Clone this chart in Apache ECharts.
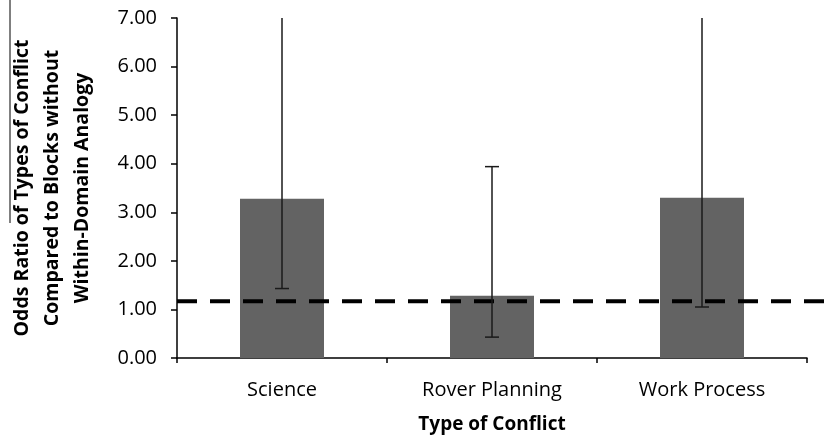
<!DOCTYPE html>
<html>
<head>
<meta charset="utf-8">
<script src="https://cdn.jsdelivr.net/npm/echarts@6/dist/echarts.min.js"></script>
<style>html,body{margin:0;padding:0;background:#fff}#c{width:830px;height:437px}</style>
</head>
<body>
<div id="c"></div>
<script>
const categories = ['Science', 'Rover Planning', 'Work Process'];
const oddsRatio = [3.28, 1.28, 3.30];
const ciLower = [1.43, 0.43, 1.05];
const ciUpper = [7.0, 3.94, 7.0];
const referenceValue = 1.17;
const yMin = 0, yMax = 7, yStep = 1;

const chart = echarts.init(document.getElementById('c'), null, {renderer: 'canvas'});
const font = '"Open Sans", "DejaVu Sans", sans-serif';

const errData = categories.map((c, i) => [i, ciLower[i], ciUpper[i]]);

chart.setOption({
  animation: false,
  backgroundColor: '#fff',
  grid: [
    {left: 177, right: 23, top: 18, bottom: 79, containLabel: false, outerBoundsMode: 'none'},
    {left: 177, right: 0, top: 18, bottom: 79, containLabel: false, outerBoundsMode: 'none'}
  ],
  xAxis: [{
    type: 'category',
    gridIndex: 0,
    data: categories,
    axisLine: {lineStyle: {color: '#000', width: 1.5}},
    axisTick: {show: true, length: 5, lineStyle: {color: '#000', width: 1.5}},
    axisLabel: {fontFamily: font, fontSize: 20, color: '#000', margin: 22},
    name: 'Type of Conflict',
    nameLocation: 'middle',
    nameGap: 57,
    nameTextStyle: {fontFamily: font, fontSize: 19, fontWeight: 'bold', color: '#000'}
  }, {
    type: 'value', gridIndex: 1, min: 0, max: 1, show: false
  }],
  yAxis: [{
    type: 'value', gridIndex: 0, min: yMin, max: yMax, interval: yStep,
    axisLine: {show: true, lineStyle: {color: '#000', width: 1.5}},
    axisTick: {show: true, length: 6, lineStyle: {color: '#000', width: 1.5}},
    splitLine: {show: false},
    axisLabel: {fontFamily: font, fontSize: 20, color: '#000', margin: 20,
      formatter: v => v.toFixed(2)},
    name: 'Odds Ratio of Types of Conflict\nCompared to Blocks without\nWithin-Domain Analogy',
    nameLocation: 'middle',
    nameRotate: 90,
    nameGap: 80,
    nameTextStyle: {fontFamily: font, fontSize: 19.5, fontWeight: 'bold', color: '#000', lineHeight: 30, align: 'center'}
  }, {
    type: 'value', gridIndex: 1, min: yMin, max: yMax, show: false
  }],
  graphic: [{type: 'line', shape: {x1: 10, y1: 0, x2: 10, y2: 223}, style: {stroke: '#000', lineWidth: 1}}],
  series: [{
    type: 'bar',
    data: oddsRatio,
    barWidth: '40%',
    itemStyle: {color: '#636363'},
    z: 2
  }, {
    type: 'custom',
    data: errData,
    z: 4,
    renderItem: function (params, api) {
      const x = api.value(0);
      const lo = api.coord([x, api.value(1)]);
      const hi = api.coord([x, api.value(2)]);
      const hw = 7;
      const st = {stroke: '#1a1a1a', lineWidth: 1.5};
      const children = [{type: 'line', shape: {x1: lo[0], y1: lo[1], x2: hi[0], y2: hi[1]}, style: st},
        {type: 'line', shape: {x1: lo[0] - hw, y1: lo[1], x2: lo[0] + hw, y2: lo[1]}, style: st}];
      if (api.value(2) < yMax) {
        children.push({type: 'line', shape: {x1: hi[0] - hw, y1: hi[1], x2: hi[0] + hw, y2: hi[1]}, style: st});
      }
      return {type: 'group', children: children};
    }
  }, {
    type: 'line',
    xAxisIndex: 1,
    yAxisIndex: 1,
    data: [[0, referenceValue], [1, referenceValue]],
    symbol: 'none',
    lineStyle: {color: '#000', width: 4, type: [20, 13]},
    z: 3
  }]
});
</script>
</body>
</html>
